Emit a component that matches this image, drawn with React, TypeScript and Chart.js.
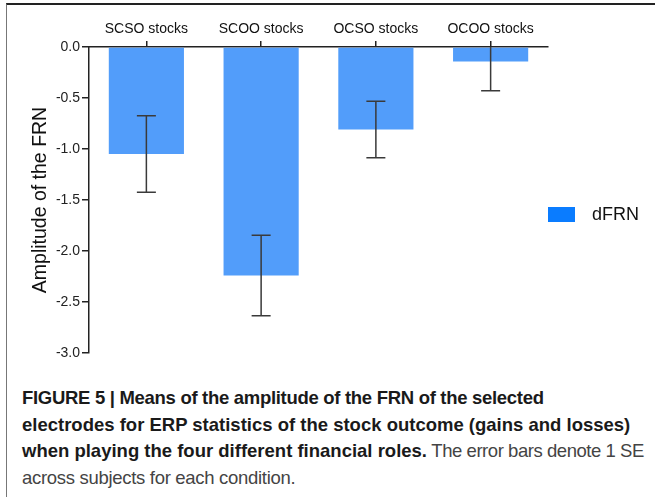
import React, { useEffect, useRef } from "react";
import { Chart, registerables } from "chart.js";

Chart.register(...registerables);

const categories = ["SCSO stocks", "SCOO stocks", "OCSO stocks", "OCOO stocks"];
const meanValues = [-1.05, -2.24, -0.81, -0.142];
const seValues = [0.375, 0.395, 0.277, 0.286];
const seriesName = "dFRN";
const yAxisTitle = "Amplitude of the FRN";
const yMin = -3;
const yMax = 0;
const yStep = 0.5;

const FONT = "'Liberation Sans', Arial, Helvetica, sans-serif";

const errorBarPlugin = {
  id: "errorBars",
  afterDatasetsDraw(chart: any) {
    const { ctx, chartArea, scales } = chart;
    const y = scales.y;
    const meta = chart.getDatasetMeta(0);
    ctx.save();
    ctx.beginPath();
    ctx.rect(chartArea.left, chartArea.top, chartArea.right - chartArea.left, chartArea.bottom - chartArea.top + 2);
    ctx.clip();
    ctx.strokeStyle = "#3a3a3a";
    ctx.lineWidth = 1.5;
    meta.data.forEach((bar: any, i: number) => {
      const m = meanValues[i];
      const se = seValues[i];
      const x = bar.x;
      const yTop = y.getPixelForValue(m + se);
      const yBot = y.getPixelForValue(m - se);
      const half = 9.5;
      ctx.beginPath();
      ctx.moveTo(x, yTop);
      ctx.lineTo(x, yBot);
      ctx.moveTo(x - half, yTop);
      ctx.lineTo(x + half, yTop);
      ctx.moveTo(x - half, yBot);
      ctx.lineTo(x + half, yBot);
      ctx.stroke();
    });
    ctx.restore();
  },
};

export default function App() {
  const canvasRef = useRef<HTMLCanvasElement | null>(null);

  useEffect(() => {
    if (!canvasRef.current) return;
    const chart = new Chart(canvasRef.current, {
      type: "bar",
      data: {
        labels: categories,
        datasets: [
          {
            label: seriesName,
            data: meanValues,
            backgroundColor: "#529dfa",
            borderWidth: 0,
            barPercentage: 0.655,
            categoryPercentage: 1,
          },
        ],
      },
      options: {
        responsive: false,
        animation: false,
        devicePixelRatio: 1,
        layout: { padding: { left: 0, top: 0, right: 107, bottom: 17 } },
        plugins: {
          legend: { display: false },
          tooltip: { enabled: false },
        },
        scales: {
          x: {
            type: "category",
            position: "top",
            grid: {
              display: true,
              drawOnChartArea: false,
              drawTicks: true,
              tickLength: 6,
              offset: false,
              color: "#222",
              lineWidth: 1.5,
            },
            border: { display: true, color: "#222", width: 1.5 },
            ticks: {
              font: { size: 14, family: FONT },
              color: "#111",
              padding: 3,
              maxRotation: 0,
            },
            afterFit: (s: any) => {
              s.height = 47;
            },
          },
          y: {
            position: "left",
            min: yMin,
            max: yMax,
            grid: {
              display: true,
              drawOnChartArea: false,
              drawTicks: true,
              tickLength: 7,
              color: "#222",
              lineWidth: 1.5,
            },
            border: { display: true, color: "#222", width: 1.5 },
            ticks: {
              stepSize: yStep,
              font: { size: 14, family: FONT },
              color: "#222",
              padding: 2,
              callback: (v: any) => Number(v).toFixed(1),
            },
            title: {
              display: true,
              text: yAxisTitle,
              font: { size: 19.5, family: FONT },
              color: "#111",
              padding: { top: 29, bottom: 0 },
            },
            afterFit: (s: any) => {
              s.width = 89;
            },
          },
        },
      },
      plugins: [errorBarPlugin],
    });
    return () => chart.destroy();
  }, []);

  return (
    <div
      style={{
        position: "absolute",
        left: 0,
        top: 0,
        width: 655,
        height: 497,
        overflow: "hidden",
        background: "#fff",
        fontFamily: FONT,
      }}
    >
      <div
        style={{
          position: "absolute",
          left: 6,
          top: 3,
          width: 700,
          height: 600,
          borderTop: "2px solid #222",
          borderLeft: "1.5px solid #777",
        }}
      />
      <canvas
        ref={canvasRef}
        width={655}
        height={370}
        style={{ position: "absolute", left: 0, top: 0, width: 655, height: 370 }}
      />
      <div
        style={{
          position: "absolute",
          left: 548,
          top: 207,
          width: 27,
          height: 15,
          background: "#0a7cff",
        }}
      />
      <div
        style={{
          position: "absolute",
          left: 592,
          top: 203,
          fontSize: 18,
          lineHeight: "22px",
          color: "#111",
          whiteSpace: "nowrap",
        }}
      >
        {seriesName}
      </div>
      <div
        style={{
          position: "absolute",
          left: 22,
          top: 385,
          fontSize: 18.5,
          lineHeight: "26.5px",
          color: "#444",
          whiteSpace: "nowrap",
        }}
      >
        <b style={{ color: "#1a1a1a", letterSpacing: "-0.3px" }}>
          FIGURE 5 | Means of the amplitude of the FRN of the selected
        </b>
        <br />
        <b style={{ color: "#1a1a1a" }}>electrodes for ERP statistics of the stock outcome (gains and losses)</b>
        <br />
        <b style={{ color: "#1a1a1a" }}>when playing the four different financial roles.</b>
        <span style={{ letterSpacing: "-0.45px" }}> The error bars denote 1 SE</span>
        <br />
        <span style={{ letterSpacing: "-0.3px" }}>across subjects for each condition.</span>
      </div>
    </div>
  );
}
